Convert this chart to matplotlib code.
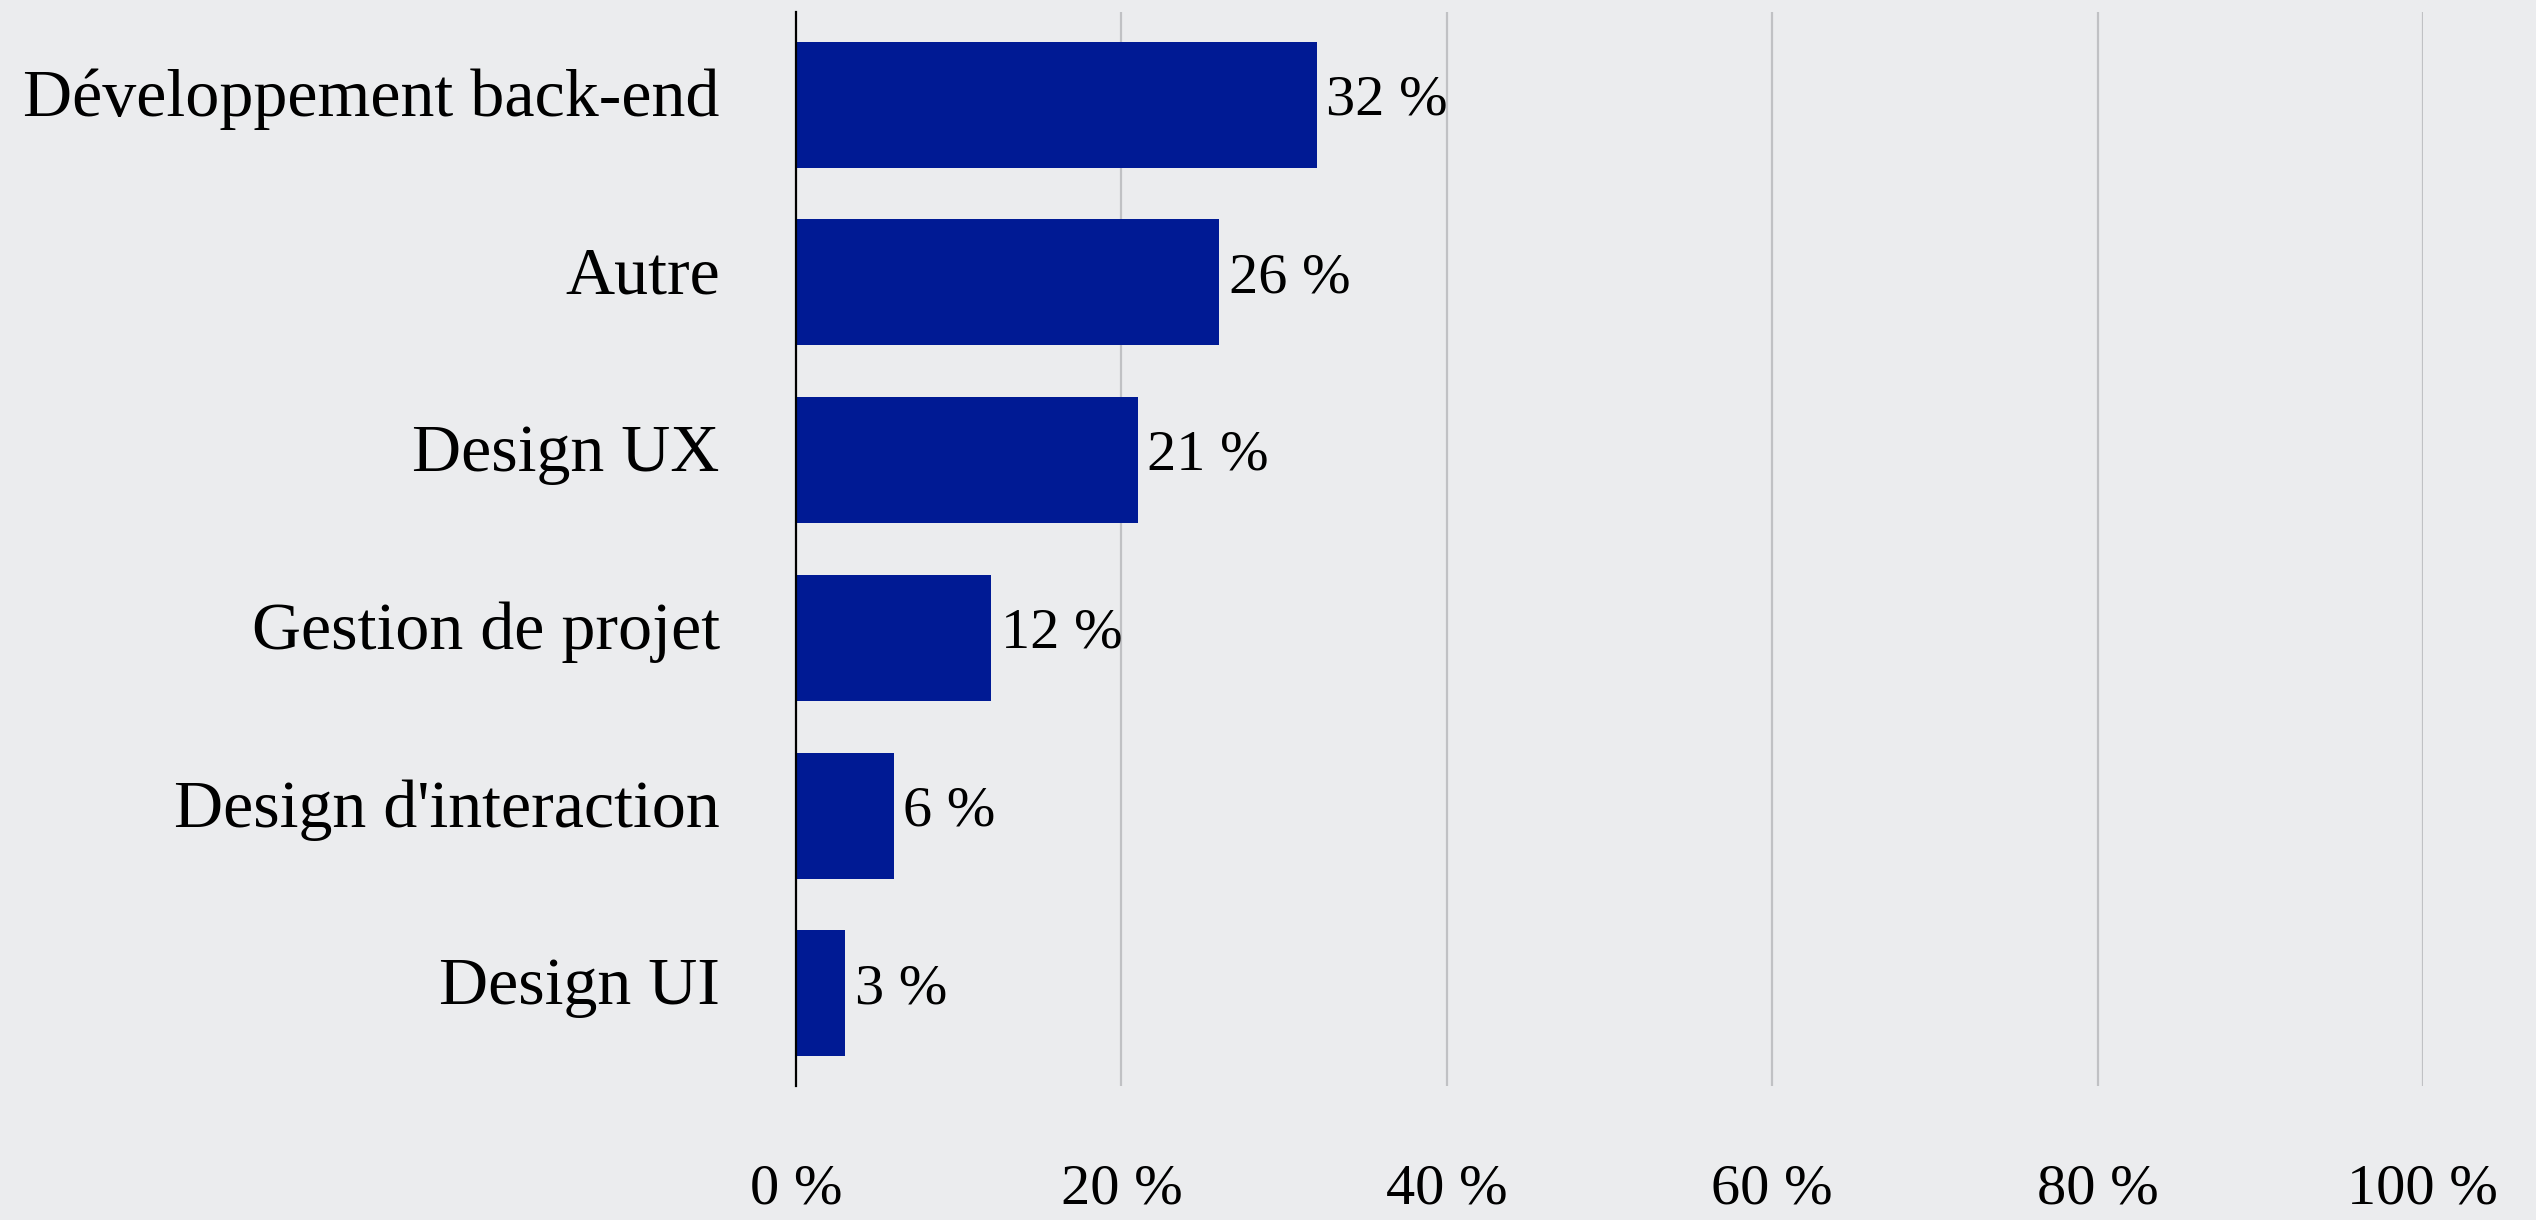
import numpy as np
import matplotlib.pyplot as plt
from matplotlib.transforms import ScaledTranslation

# 数据
categories = ["Développement back-end", "Autre", "Design UX",
              "Gestion de projet", "Design d'interaction", "Design UI"]
values = [32, 26, 21, 12, 6, 3]
x_ticks = [0, 20, 40, 60, 80, 100]
x_tick_labels = ["0 %", "20 %", "40 %", "60 %", "80 %", "100 %"]

bg_color = '#ebecee'
bar_color = '#001a94'
font = 'Liberation Serif'

fig = plt.figure(figsize=(25.36, 12.2), dpi=100, facecolor=bg_color)
ax = fig.add_axes([0.3139, 0.110, 0.9554 - 0.3139, 0.880])
ax.set_facecolor(bg_color)

y = np.arange(len(categories))
ax.barh(y, values, height=0.71, color=bar_color, zorder=3)

# 数值标签
for yi, v in zip(y, values):
    ax.annotate(f"{v} %", xy=(v, yi), xytext=(7, 3), textcoords='offset points',
                va='center', ha='left', fontsize=42, family=font,
                color='black', zorder=4)

ax.set_xlim(0, 100)
ax.set_ylim(len(categories) - 0.48, -0.52)

ax.set_yticks(y)
ax.set_yticklabels(categories, fontsize=49, family=font)
ax.set_xticks(x_ticks)
ax.set_xticklabels(x_tick_labels, fontsize=42, family=font)
ax.tick_params(axis='y', length=0, pad=55)
ax.tick_params(axis='x', length=0, pad=56)

# 类别标签略微上移
shift = ScaledTranslation(0, 9 / 72, fig.dpi_scale_trans)
for label in ax.get_yticklabels():
    label.set_transform(label.get_transform() + shift)

# 网格线
for xv in x_ticks[1:]:
    ax.axvline(xv, color='#c0c1c4', linewidth=1.6, zorder=1)

for side in ['top', 'right', 'bottom']:
    ax.spines[side].set_visible(False)
ax.spines['left'].set_color('black')
ax.spines['left'].set_linewidth(1.6)
ax.spines['left'].set_zorder(5)

fig.savefig('out.png', dpi=100, facecolor=bg_color)
